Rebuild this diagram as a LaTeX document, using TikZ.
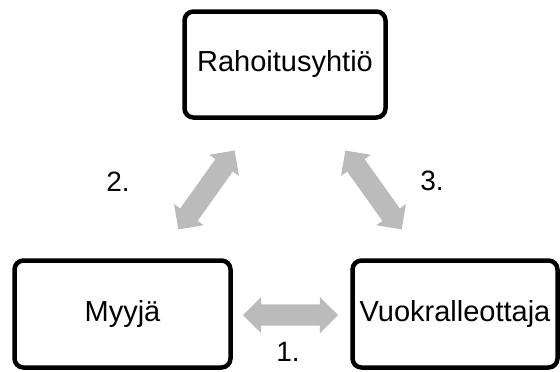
\documentclass[tikz,border=0pt]{standalone}
\usepackage{fontspec}
\setmainfont{Liberation Sans}
\usetikzlibrary{shapes.arrows}
\definecolor{arrowgray}{RGB}{187,187,187}
\tikzset{
  party/.style={draw=black, line width=4.5pt, rounded corners=9pt, fill=white,
    font=\fontsize{29}{34}\selectfont, inner sep=0pt},
  blockarrow/.style={double arrow, fill=arrowgray, draw=none, minimum width=36pt,
    double arrow head extend=7.5pt, minimum height=97pt, inner xsep=0pt, inner ysep=10.5pt},
  steplabel/.style={font=\fontsize{28}{33}\selectfont, inner sep=0pt}
}
\begin{document}
\begin{tikzpicture}[x=1pt,y=-1pt]
  \useasboundingbox (0,0) rectangle (560,372);
  \node[party, minimum width=201pt, minimum height=106pt] (rah) at (285,64.5) {Rahoitusyhtiö};
  \node[party, minimum width=216pt, minimum height=107pt] (myy) at (122.5,314) {Myyjä};
  \node[party, minimum width=205pt, minimum height=107pt] (vuo) at (455,314) {Vuokralleottaja};
  \node[blockarrow, minimum height=95pt] (a1) at (290.5,315) {};
  \node[blockarrow, rotate=54.5] (a2) at (206.5,190) {};
  \node[blockarrow, rotate=125.5] (a3) at (373.5,190) {};
  \node[steplabel] (l1) at (288,352) {1.};
  \node[steplabel] (l2) at (118,182) {2.};
  \node[steplabel] (l3) at (432,181) {3.};
\end{tikzpicture}
\end{document}
